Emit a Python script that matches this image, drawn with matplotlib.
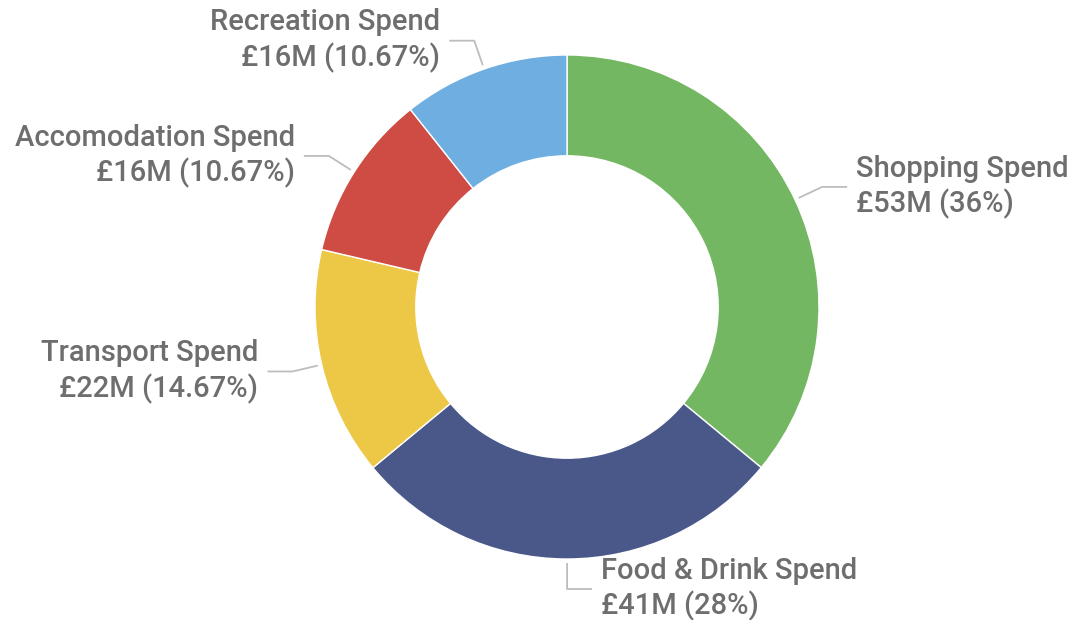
import matplotlib
matplotlib.use('Agg')
import matplotlib.pyplot as plt
import numpy as np

categories = ["Shopping Spend", "Food & Drink Spend", "Transport Spend",
              "Accomodation Spend", "Recreation Spend"]
amounts = ["£53M", "£41M", "£22M", "£16M", "£16M"]
percents = [36, 28, 14.67, 10.67, 10.67]
pct_labels = ["36%", "28%", "14.67%", "10.67%", "10.67%"]
colors = ["#74B762", "#4A5889", "#ECC846", "#CF4C45", "#6FAEE0"]

W, H = 1077, 620
fig = plt.figure(figsize=(W / 100, H / 100), dpi=100)
ax = fig.add_axes([0, 0, 1, 1])
cx, cy = 567, H - 307
R = 252
wedges, _ = ax.pie(percents, colors=colors, startangle=90, counterclock=False,
                   center=(cx, cy), radius=R, frame=True,
                   wedgeprops=dict(width=R * 0.4, edgecolor='white', linewidth=1))
ax.set_xlim(0, W)
ax.set_ylim(0, H)
ax.axis('off')

text_color = "#6E6E6E"
line_color = "#BDBDBD"
r_s, r_e, hlen, gap = 256, 282, 25, 9
for w, cat, amt, pl in zip(wedges, categories, amounts, pct_labels):
    th = np.deg2rad((w.theta1 + w.theta2) / 2)
    c, s = np.cos(th), np.sin(th)
    x0, y0 = cx + r_s * c, cy + r_s * s
    x1, y1 = cx + r_e * c, cy + r_e * s
    right = c > -0.01
    sgn = 1 if right else -1
    x2 = x1 + sgn * hlen
    ax.plot([x0, x1, x2], [y0, y1, y1], color=line_color, lw=1.3,
            solid_capstyle='butt')
    ax.text(x2 + sgn * gap, y1, f"{cat}\n{amt} ({pl})",
            ha='left' if right else 'right', va='center',
            multialignment='left' if right else 'right',
            fontsize=21, fontweight='medium', color=text_color,
            family='Roboto', linespacing=1.27)

fig.savefig("out.png", dpi=100)
